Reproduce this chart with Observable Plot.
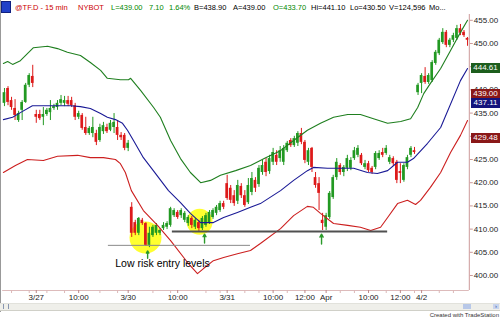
<!DOCTYPE html>
<html><head><meta charset="utf-8">
<script src="https://cdn.jsdelivr.net/npm/d3@7"></script>
<script src="https://cdn.jsdelivr.net/npm/@observablehq/plot@0.6"></script>
<style>
body{margin:0;background:#fff;font-family:Arial,"Liberation Sans",sans-serif;}
#wrap{position:relative;width:500px;height:331px;overflow:hidden;background:#fff;}
#hdr{position:relative;height:14px;font-size:7.5px;white-space:nowrap;}
#hdr span{position:absolute;top:4px;line-height:8px;}
#chart{position:absolute;left:0;top:14px;}
.box{position:absolute;left:471px;width:29px;height:10px;line-height:10px;font-size:8px;color:#fff;text-align:center;}
#scroll{position:absolute;left:0;top:303px;width:500px;height:6px;background:#efefea;border-top:1px solid #e2e2dc;border-bottom:1px solid #d0d0c8;}
#cap{position:absolute;right:1px;top:312px;font-size:6px;color:#333;}
#lbar{position:absolute;left:0;top:0;width:1px;height:312px;background:#999;}
</style></head>
<body><div id="wrap">
<div id="lbar"></div>
<div id="hdr">
<div style="position:absolute;left:1px;top:1px;width:8px;height:10px;background:#2040c8;border:1px solid #102080;"></div>
<span style="left:15px;color:#cc0000">@TF.D - 15 min</span>
<span style="left:78px;color:#cc0000">NYBOT</span>
<span style="left:111px;color:#008800">L=439.00</span>
<span style="left:149px;color:#008800">7.10</span>
<span style="left:169px;color:#008800">1.64%</span>
<span style="left:194px;color:#000">B=438.90</span>
<span style="left:233px;color:#000">A=439.00</span>
<span style="left:273px;color:#008800">O=433.70</span>
<span style="left:311px;color:#000">Hi=441.10</span>
<span style="left:350px;color:#000">Lo=430.50</span>
<span style="left:389px;color:#000">V=124,596</span>
<span style="left:429px;color:#000">Mo...</span>
</div>
<div id="chart"></div>
<div id="scroll">
<div style="position:absolute;left:3px;top:0px;width:4px;height:5px;border-left:1px solid #8896b0;border-right:1px solid #8896b0;"></div>
<div style="position:absolute;left:463px;top:0px;width:8px;height:5px;background:#b8c8e8;"></div>
<div style="position:absolute;left:493px;top:0px;width:6px;height:5px;background:#c8d4ee;color:#3050a0;font-size:6px;line-height:5px;text-align:center;">›</div>
</div>
<div id="cap">Created with TradeStation</div>
</div>
<script>
// 15-min candles, 3/26 (tail) .. 4/2
const open = [437.1,440.3,437.7,436.0,433.4,435.6,437.3,441.0,442.9,
434.7,434.7,434.1,434.7,435.1,436.0,436.2,437.1,437.1,437.7,437.7,436.6,434.1,434.5,431.9,430.6,430.6,430.6,429.1,431.0,431.9,431.3,431.9,431.9,430.2,430.2,427.4,
414.7,411.4,409.1,411.9,411.2,406.5,408.6,409.1,409.1,410.1,410.4,410.8,412.9,413.6,412.9,411.9,411.2,412.3,410.4,411.4,410.1,410.8,411.4,412.5,413.4,414.0,415.5,
419.8,418.8,417.2,416.0,419.2,417.2,415.7,417.9,420.5,419.6,422.2,424.4,422.4,424.4,425.9,425.2,424.4,426.9,429.1,428.0,428.5,430.6,428.7,424.4,427.4,421.1,419.8,
411.9,410.4,412.5,416.8,421.1,423.7,422.2,423.1,423.1,425.2,425.9,425.9,423.3,424.1,423.1,423.3,425.2,426.5,426.3,424.4,425.2,424.4,422.4,420.5,423.3,425.9,426.9,
439.4,441.4,442.9,441.6,442.0,445.7,447.8,450.2,452.4,449.6,450.7,451.1,453.2,452.4,451.1];
const high = [440.3,440.7,438.4,437.9,435.4,437.7,441.4,443.5,445.3,
435.6,435.6,436.2,436.0,437.7,436.9,437.7,438.8,438.6,438.6,438.4,437.1,435.4,434.9,434.1,432.1,434.1,431.3,432.6,433.0,432.6,433.4,434.9,433.4,430.8,430.6,429.1,
415.7,411.9,412.5,412.3,411.4,410.4,410.8,411.2,410.1,411.4,411.6,414.7,414.4,414.0,414.4,413.8,412.9,412.7,412.3,411.9,412.7,413.4,414.0,414.4,415.1,416.0,416.0,
421.6,419.4,418.3,420.5,419.8,418.3,420.9,422.2,421.1,423.7,424.8,425.2,425.9,427.4,426.9,427.8,428.0,428.9,429.5,430.0,431.0,431.7,429.1,427.4,427.6,422.2,421.1,
413.4,413.4,418.1,421.6,425.2,424.1,423.7,425.9,425.4,427.6,428.0,426.3,424.8,424.6,423.5,426.7,426.9,427.4,428.0,425.9,425.6,424.8,424.1,424.1,425.9,427.8,427.6,
441.4,443.5,444.8,443.5,446.3,448.5,451.1,453.2,452.8,451.1,452.2,453.9,454.1,452.8,451.3];
const low = [436.4,436.6,435.6,433.4,433.0,433.4,437.1,440.5,440.5,
432.8,433.4,432.3,434.3,433.4,435.6,435.6,436.6,436.4,436.4,436.2,433.4,433.6,431.3,430.2,430.2,429.7,428.0,428.7,430.4,430.6,431.0,430.6,429.1,429.1,426.9,426.7,
408.2,408.6,408.6,410.8,406.3,406.0,408.2,408.6,408.6,409.7,409.9,410.4,412.5,412.1,412.3,411.4,410.6,410.1,409.9,409.3,409.7,410.4,411.0,412.1,412.9,413.6,414.2,
416.2,415.5,414.9,415.3,416.6,414.7,415.3,417.2,417.9,419.0,421.6,421.3,421.8,423.7,423.7,424.4,423.7,426.5,427.6,427.6,427.8,428.2,424.1,423.7,422.2,418.8,414.0,
409.7,409.7,412.1,416.4,420.5,421.6,421.3,422.4,422.6,424.8,425.4,423.7,422.8,422.2,421.8,422.8,424.8,425.4,425.9,423.9,423.5,419.8,419.8,420.1,422.8,425.4,426.1,
438.8,439.2,441.2,441.2,441.6,445.3,447.4,449.8,449.1,449.1,450.2,450.7,451.7,451.3,449.4];
const close = [439.4,437.3,436.2,434.5,434.9,437.3,441.0,443.1,441.4,
434.1,433.8,434.7,435.6,436.0,436.4,437.1,437.9,437.7,436.9,436.6,434.1,434.9,431.7,430.6,431.7,431.9,428.7,431.9,432.3,431.0,432.8,433.0,430.2,429.7,427.4,428.5,
409.1,409.1,412.3,411.2,406.5,409.1,410.4,410.8,409.7,410.8,411.2,414.4,414.0,412.5,414.0,413.4,412.5,410.8,411.9,410.1,412.3,412.9,413.6,414.0,414.7,415.5,414.7,
416.6,416.2,415.5,419.4,417.2,415.1,419.4,420.9,418.8,423.1,423.7,422.2,425.2,426.5,424.4,426.9,427.4,428.5,428.0,429.5,430.6,428.7,424.8,426.9,423.3,419.4,417.7,
411.2,412.9,417.7,421.1,424.4,422.2,423.3,425.2,424.8,426.9,427.4,424.1,424.1,422.6,422.2,426.3,426.3,425.9,427.4,425.4,424.1,420.5,422.0,423.7,425.4,427.4,426.5,
441.0,443.1,441.6,443.1,445.9,448.1,450.7,452.4,449.6,450.7,451.7,453.2,452.2,451.7,450.7];

// Bollinger-style bands (bar index, price)
const upperIdx = [-0.3,0.9,2.3,4.5,8.2,12.2,15.0,17.8,21.5,24.3,27.2,29.1,32.8,35.1,35.7,38.5,42.2,44.1,47.0,49.8,52.6,55.5,58.3,61.1,65.4,69.6,73.9,78.1,81.8,85.7,89.4,93.1,97.1,100.7,104.4,108.4,112.1,114.9,116.9,118.6,120.5,123.4,126.2,129.0,131.0];
const upperVal = [445.7,446.1,445.5,446.3,449.1,449.4,448.9,448.1,447.4,445.9,444.2,442.5,442.2,442.2,442.5,439.9,436.2,434.1,429.1,425.2,422.2,420.0,420.5,421.6,422.6,423.7,425.4,426.9,429.1,431.3,432.8,434.1,434.7,434.7,433.8,432.8,433.2,433.8,436.2,439.2,441.4,444.6,448.5,452.4,455.0];
const midIdx = [-0.3,2.3,4.5,7.9,18.7,21.5,24.3,27.2,29.1,31.4,33.4,34.8,36.5,39.3,42.7,46.4,49.8,52.6,55.5,59.1,62.0,65.9,69.6,72.4,78.1,81.8,85.7,87.4,91.4,95.1,98.8,102.7,105.5,108.4,111.2,114.0,115.7,119.7,123.4,129.0,131.0];
const midVal = [433.6,434.1,435.1,436.6,436.6,436.4,436.0,434.9,434.1,433.6,432.8,431.3,429.1,425.4,422.0,418.3,415.7,413.4,411.4,411.4,412.5,413.6,414.7,415.5,418.3,420.5,422.6,423.3,423.1,423.1,423.1,422.2,422.0,422.6,424.4,424.4,425.2,428.5,431.9,442.0,444.6];
const lowerIdx = [-0.3,3.1,6.5,11.0,15.0,20.7,24.3,28.0,31.4,32.8,34.2,35.9,39.3,43.3,47.0,51.8,54.6,56.3,59.1,62.0,65.9,69.6,72.4,78.1,81.8,85.7,87.4,89.4,93.1,97.1,100.7,103.6,106.4,108.4,111.2,114.0,116.3,117.7,120.5,123.4,126.2,129.0,131.0];
const lowerVal = [422.2,423.7,425.0,424.8,425.7,425.9,425.4,425.4,425.0,424.1,422.2,418.3,414.0,410.8,407.5,402.8,400.4,401.5,403.2,403.9,404.7,405.4,406.9,410.1,412.9,414.9,414.7,413.4,411.2,410.8,410.4,409.7,410.4,412.5,415.5,416.2,415.3,416.2,419.0,422.2,426.5,430.2,433.4];

// axes
const yTicks = [400,405,410,415,420,425,430,435,440,445,450,455];
const xTickIdx = [9,21,35,49,63,76,85,91,103,112,118];
const xTickLabels = ["3/27","10:00","3/30","10:00","3/31","10:00","12:00","Apr","10:00","12:00","4/2"];
const minorTickIdx = [2,7,12,17,27,32,42,47,57,61,68,72,80,95,99,108,116,123,127];

// price tags on the right axis
const tagValues = [444.61, 439.00, 437.11, 429.48];
const tagColors = ["#1d5e1d", "#8a1818", "#14147c", "#8a1818"];

// annotations
const entryLevels = [{v: 406.5, from: 29.4, to: 69.6, w: 1, c: "#8a8a8a"}, {v: 409.5, from: 47.5, to: 108.4, w: 2, c: "#505050"}];
const highlights = [{i: 39.9, v: 408.2, r: 16}, {i: 55.2, v: 411.6, r: 13}];
const arrowsUp = [{i: 40.5, from: 403.7, to: 405.3}, {i: 56.6, from: 407.0, to: 408.9}, {i: 89.7, from: 406.8, to: 408.9}];
const note = [{i: 44.7, v: 402.6, label: "Low risk entry levels"}];

const up = "#229922", down = "#dd1a1a";
const candles = open.map((o, i) => ({i, open: o, high: high[i], low: low[i], close: close[i], col: close[i] >= o ? up : down}));
const band = (idx, val) => idx.map((d, k) => ({i: d, v: val[k]}));
const labelMap = new Map(xTickIdx.map((d, k) => [d, xTickLabels[k]]));

const xDom = [-0.5, 131.5], yDom = [396.77, 456.25];
const plot = Plot.plot({
  width: 500, height: 289,
  marginLeft: 2.2, marginRight: 31.2, marginTop: 0, marginBottom: 13,
  x: {domain: xDom, axis: null},
  y: {domain: yDom, axis: null},
  color: {type: "identity"},
  style: {fontFamily: "Arial, 'Liberation Sans', sans-serif", fontSize: "8px", background: "transparent", overflow: "visible"},
  marks: [
    ...highlights.map(h => Plot.dot([h], {x: "i", y: "v", r: h.r, fill: "#ffff30", stroke: "none"})),
    Plot.ruleX(candles, {x: "i", y1: "low", y2: "high", stroke: "col", strokeWidth: 1}),
    Plot.rect(candles, {x1: d => d.i - 0.38, x2: d => d.i + 0.38, y1: "open", y2: "close", fill: "col", inset: 0}),
    Plot.line(band(upperIdx, upperVal), {x: "i", y: "v", stroke: "#1f7f1f", strokeWidth: 1.1}),
    Plot.line(band(midIdx, midVal), {x: "i", y: "v", stroke: "#1a1a96", strokeWidth: 1.1}),
    Plot.line(band(lowerIdx, lowerVal), {x: "i", y: "v", stroke: "#cc1f1f", strokeWidth: 1.1}),
    Plot.ruleY(entryLevels, {y: "v", x1: "from", x2: "to", stroke: "c", strokeWidth: "w"}),
    Plot.arrow(arrowsUp, {x1: "i", x2: "i", y1: "from", y2: "to", stroke: "#2a9a2a", strokeWidth: 1.4, headLength: 4}),
    Plot.text(note, {x: "i", y: "v", text: "label", fontSize: 10.5, fill: "#000"}),
    Plot.ruleX([xDom[1]], {stroke: "#c99", strokeWidth: 1}),
    Plot.ruleY([yDom[0]], {stroke: "#dbb", strokeWidth: 1}),
    Plot.axisY({anchor: "right", ticks: yTicks, tickFormat: d => d.toFixed(2), tickSize: 3, tickPadding: 1.5, stroke: "#c99", fill: "#222", fontSize: 8, label: null}),
    Plot.axisX({anchor: "bottom", ticks: minorTickIdx, tickFormat: () => "", tickSize: 3, stroke: "#dcb8b8", label: null}),
    Plot.axisX({anchor: "bottom", ticks: xTickIdx, tickFormat: d => labelMap.get(d), tickSize: 3, tickPadding: 1, stroke: "#b88", fill: "#222", fontSize: 8, label: null})
  ]
});
const host = document.getElementById("chart");
host.appendChild(plot);
const ys = plot.scale("y");
const wrap = document.getElementById("wrap");
tagValues.forEach((v, k) => {
  const d = document.createElement("div");
  d.className = "box";
  d.style.top = (14 + ys.apply(v) - 5) + "px";
  d.style.background = tagColors[k];
  d.textContent = v.toFixed(2);
  wrap.appendChild(d);
});
</script>
</body></html>
